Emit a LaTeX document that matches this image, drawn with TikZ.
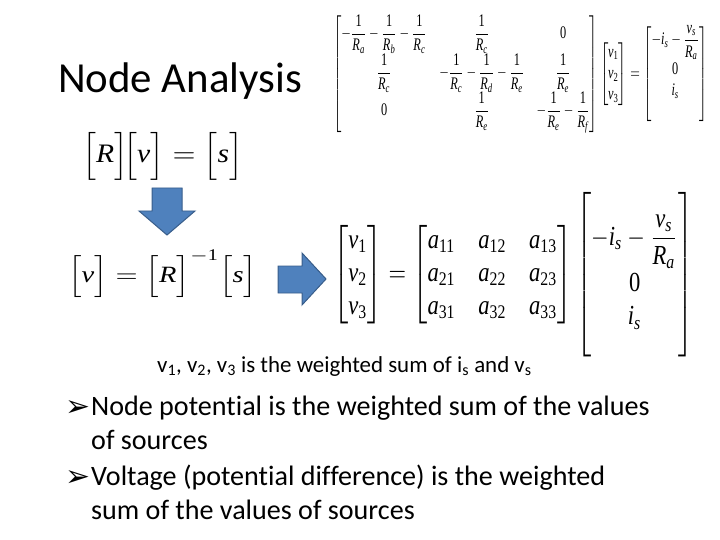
\documentclass[tikz,border=0pt]{standalone}
\usepackage{amsmath}
\usepackage[no-math]{fontspec}
\usepackage{graphicx}
\setmainfont{Carlito}[Ligatures=NoCommon]
\newfontfamily\symfont{DejaVu Sans}
\newfontfamily\tms{Liberation Serif}
\newcommand{\tmsit}[1]{\text{\tms\itshape #1}}
\newcommand{\tmsup}[1]{\text{\tms #1}}
\newcommand{\Rsub}[1]{\tmsit{R}_{\tmsit{#1}}}
\newcommand{\inv}[1]{\dfrac{\tmsup{1}}{\Rsub{#1}}}
\definecolor{arrowblue}{RGB}{79,129,189}
\definecolor{arrowedge}{RGB}{56,93,138}
\tikzset{
  titletext/.style={anchor=base west,inner sep=0pt,font=\fontsize{43}{50}\selectfont},
  bodytext/.style={anchor=base west,inner sep=0pt,font=\fontsize{28.2}{34}\selectfont},
  notetext/.style={anchor=base west,inner sep=0pt,font=\fontsize{23}{27}\selectfont},
  bulletmark/.style={anchor=base west,inner sep=0pt,font=\symfont\fontsize{30}{34}\selectfont},
  eqbox/.style={anchor=north west,inner sep=0pt},
  blockarrow/.style={fill=arrowblue,draw=arrowedge,line width=1pt,line join=miter}
}
\begin{document}
\begin{tikzpicture}[x=1bp,y=-1bp]
\useasboundingbox (0,0) rectangle (720,540);
% title
\node[titletext] (title) at (58,93) {Node Analysis};
% matrix form of the circuit
\node[eqbox] (rmatrix) at (333,15) {\resizebox*{374bp}{118bp}{$
\begin{bmatrix}
-\inv{a}-\inv{b}-\inv{c} & \inv{c} & \tmsup{0}\\
\inv{c} & -\inv{c}-\inv{d}-\inv{e} & \inv{e}\\
\tmsup{0} & \inv{e} & -\inv{e}-\inv{f}
\end{bmatrix}
\begin{bmatrix} \tmsit{v}_{\tmsup{1}}\\ \tmsit{v}_{\tmsup{2}}\\ \tmsit{v}_{\tmsup{3}} \end{bmatrix}
=\begin{bmatrix} -\tmsit{i}_{\tmsit{s}}-\dfrac{\tmsit{v}_{\tmsit{s}}}{\Rsub{a}}\\ \tmsup{0}\\ \tmsit{i}_{\tmsit{s}}\\ \phantom{0} \end{bmatrix}$}};
% short forms
\node[eqbox] (rvs) at (82,132) {\resizebox*{161bp}{48bp}{$\Bigl[\tmsit{R}\Bigr]\!\Bigl[\tmsit{v}\Bigr]=\Bigl[\tmsit{s}\Bigr]$}};
\node[eqbox] (vrs) at (68,250) {\resizebox*{189bp}{47bp}{$\Bigl[\tmsit{v}\Bigr]=\Bigl[\tmsit{R}\Bigr]^{-\tmsup{1}}\Bigl[\tmsit{s}\Bigr]$}};
% solved form
\node[eqbox] (amatrix) at (333,185) {\resizebox*{360bp}{172bp}{$
\begin{bmatrix} \tmsit{v}_{\tmsup{1}}\\ \tmsit{v}_{\tmsup{2}}\\ \tmsit{v}_{\tmsup{3}} \end{bmatrix}
=\begin{bmatrix}
\tmsit{a}_{\tmsup{11}} & \tmsit{a}_{\tmsup{12}} & \tmsit{a}_{\tmsup{13}}\\
\tmsit{a}_{\tmsup{21}} & \tmsit{a}_{\tmsup{22}} & \tmsit{a}_{\tmsup{23}}\\
\tmsit{a}_{\tmsup{31}} & \tmsit{a}_{\tmsup{32}} & \tmsit{a}_{\tmsup{33}}
\end{bmatrix}
\left[\rule[-25pt]{0pt}{60pt}\begin{matrix} -\tmsit{i}_{\tmsit{s}}-\dfrac{\tmsit{v}_{\tmsit{s}}}{\Rsub{a}}\\ \tmsup{0}\\ \tmsit{i}_{\tmsit{s}} \end{matrix}\right]$}};
% arrows
\draw[blockarrow] (152,188) -- (182,188) -- (182,211) -- (195,211) -- (167,235)
  -- (139,211) -- (152,211) -- cycle;
\draw[blockarrow] (278,266) -- (302,266) -- (302,253) -- (326,279) -- (302,305)
  -- (302,293) -- (278,293) -- cycle;
% notes
\node[notetext] (weights) at (157,372) {v\textsubscript{1}, v\textsubscript{2}, v\textsubscript{3} is the weighted sum of i\textsubscript{s} and v\textsubscript{s}};
\node[bulletmark] (bullet1) at (65,416) {➢};
\node[bodytext] (line1) at (91,415) {Node potential is the weighted sum of the values};
\node[bodytext] (line2) at (91,449) {of sources};
\node[bulletmark] (bullet2) at (65,486) {➢};
\node[bodytext] (line3) at (91,485) {Voltage (potential difference) is the weighted};
\node[bodytext] (line4) at (91,519) {sum of the values of sources};
\end{tikzpicture}
\end{document}
